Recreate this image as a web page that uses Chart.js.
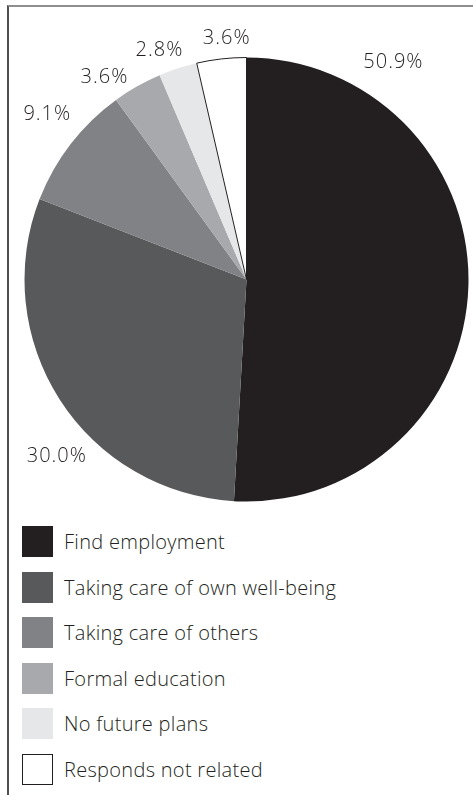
<!DOCTYPE html>
<html>
<head>
<meta charset="utf-8">
<script src="https://cdn.jsdelivr.net/npm/chart.js@4/dist/chart.umd.min.js"></script>
<style>
  html, body { margin: 0; padding: 0; background: #fff; }
  #figure { position: relative; width: 473px; height: 795px; overflow: hidden; font-family: "Open Sans", sans-serif; }
  #frame { position: absolute; left: 7px; top: 5px; width: 470px; height: 800px;
           border-top: 2px solid #8e8e8e; border-left: 2px solid #4f4f4f; box-sizing: border-box; }
  #pie { position: absolute; left: 0; top: 0; }
  .legend-item { position: absolute; left: 22px; height: 31px; line-height: 31px; font-size: 20px; font-weight: 300;
                 letter-spacing: 0.3px; color: #231f20; white-space: nowrap; }
  .legend-item .swatch { position: absolute; left: 0; top: 0; width: 31px; height: 31px; box-sizing: border-box; }
  .legend-item .text { position: absolute; left: 42px; top: 0; }
</style>
</head>
<body>
<div id="figure">
  <div id="frame"></div>
  <canvas id="pie" width="473" height="515"></canvas>
  <div id="legend"></div>
</div>
<script>
const categories = [
  "Find employment",
  "Taking care of own well-being",
  "Taking care of others",
  "Formal education",
  "No future plans",
  "Responds not related"
];

const shares = [50.9, 30.0, 9.1, 3.6, 2.8, 3.6];

const sliceColors = ["#231f20", "#58595b", "#808285", "#a7a9ac", "#e6e7e8", "#ffffff"];

// label placement around the pie: angle nudge (deg) from the slice middle, gap past the rim (px)
const labelShift = [-57.8, -9.9, 2.2, -5.5, -2.8, 1.7];
const labelGap = [41, 36.6, 38, 26.4, 24.5, 21.4];

const sliceLabels = {
  id: "sliceLabels",
  afterDatasetsDraw(chart, args, opts){
    const ctx = chart.ctx;
    const meta = chart.getDatasetMeta(0);
    ctx.save();
    ctx.font = opts.font;
    ctx.fillStyle = opts.color;
    ctx.letterSpacing = "1px";
    ctx.textAlign = "center";
    ctx.textBaseline = "alphabetic";
    meta.data.forEach((arc, i) => {
      const p = arc.getProps(["x", "y", "startAngle", "endAngle", "outerRadius"], true);
      const mid = (p.startAngle + p.endAngle) / 2 + labelShift[i] * Math.PI / 180;
      const r = p.outerRadius + labelGap[i];
      const value = chart.data.datasets[0].data[i];
      ctx.fillText(value.toFixed(1) + "%", p.x + Math.cos(mid) * r + 0.5, p.y + Math.sin(mid) * r + 7);
    });
    ctx.restore();
  }
};

new Chart(document.getElementById("pie").getContext("2d"), {
  type: "pie",
  data: {
    labels: categories,
    datasets: [{
      data: shares,
      backgroundColor: sliceColors,
      borderColor: "#231f20",
      borderWidth: [0, 0, 0, 0, 0, 1]
    }]
  },
  options: {
    responsive: false,
    animation: false,
    events: [],
    layout: { padding: { top: 57, left: 24, right: 4, bottom: 13 } },
    plugins: {
      legend: { display: false },
      tooltip: { enabled: false },
      sliceLabels: { font: "300 20px 'Open Sans'", color: "#231f20" }
    }
  },
  plugins: [sliceLabels]
});

// legend rows below the pie
const legend = document.getElementById("legend");
categories.forEach((name, i) => {
  const row = document.createElement("div");
  row.className = "legend-item";
  row.style.top = (526 + i * 45.5) + "px";
  const box = document.createElement("div");
  box.className = "swatch";
  box.style.background = sliceColors[i];
  if (sliceColors[i] === "#ffffff") box.style.border = "1px solid #231f20";
  const text = document.createElement("span");
  text.className = "text";
  text.textContent = name;
  row.appendChild(box);
  row.appendChild(text);
  legend.appendChild(row);
});
</script>
</body>
</html>
